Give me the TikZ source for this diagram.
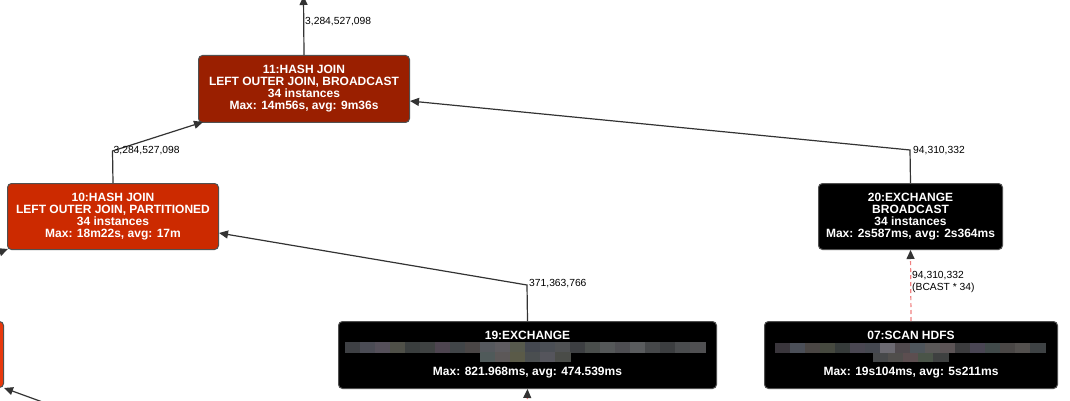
\documentclass[tikz,border=0pt]{standalone}
\usepackage{fontspec}
\setmainfont{Liberation Sans}
\usetikzlibrary{arrows.meta,calc}
\definecolor{hjA}{HTML}{9A1F00}
\definecolor{hjB}{HTML}{CC2A00}
\definecolor{hjC}{HTML}{E8380C}
\definecolor{bord}{HTML}{505050}
\definecolor{edgec}{HTML}{333333}
\definecolor{dashc}{HTML}{F08080}
\newcommand{\mosaic}[4]{% x0, y0, height, colour list
  \foreach \c [count=\i] in {#4} {
    \definecolor{mz}{HTML}{\c}
    \fill[mz] ({#1+(\i-1)*15},#2) rectangle ({#1+\i*15+0.5},{#2+#3});
  }}
\begin{document}
\begin{tikzpicture}[x=1pt,y=-1pt,
  plan/.style={draw=bord, line width=1pt, rounded corners=4pt, text=white,
    font=\fontsize{12}{12}\selectfont\bfseries, align=center, inner sep=0pt,
    anchor=north west},
  flow/.style={draw=edgec, line width=1.2pt, -{Triangle[length=9pt,width=8pt]}},
  bcast/.style={draw=dashc, line width=1.2pt, dash pattern=on 4pt off 3pt,
    -{Triangle[length=9pt,width=8pt,color=edgec,fill=edgec]}},
  cnt/.style={font=\fontsize{10.3}{12}\selectfont, anchor=west, inner sep=1pt,
    text=black, align=left}]
\useasboundingbox[fill=white] (0,0) rectangle (1070,401);

% nodes
\node[plan, fill=hjA, minimum width=211pt, minimum height=67pt] (n11) at (198,55)
  {11:HASH JOIN\\LEFT OUTER JOIN, BROADCAST\\34 instances\\Max: 14m56s, avg: 9m36s};
\node[plan, fill=hjB, minimum width=211pt, minimum height=66pt] (n10) at (7,183)
  {10:HASH JOIN\\LEFT OUTER JOIN, PARTITIONED\\34 instances\\Max: 18m22s, avg: 17m};
\node[plan, fill=black, minimum width=184pt, minimum height=66pt] (n20) at (818,183)
  {20:EXCHANGE\\BROADCAST\\34 instances\\Max: 2s587ms, avg: 2s364ms};
\node[plan, fill=black, minimum width=378pt, minimum height=67pt] (n19) at (338,321)
  {19:EXCHANGE\\\strut\\\strut\\Max: 821.968ms, avg: 474.539ms};
\node[plan, fill=black, minimum width=293pt, minimum height=67pt] (n07) at (764,321)
  {07:SCAN HDFS\\\strut\\\strut\\Max: 19s104ms, avg: 5s211ms};
\node[plan, fill=hjC, minimum width=40pt, minimum height=66pt] (nx) at (-37,321) {};

% redacted lines
\mosaic{345}{342}{11}{3E4044,4B4C55,55505A,4F5048,3A3E3E,3F4242,4E4550,414548,4A4646,56595E,5E5C60,575A4D,444850,4B4F55,505254,3D3F42,4A4E4C,555859,4E4E52,5A5C5E,46484A,3C3E40,4A4C4E,505052}
\mosaic{480}{352}{10}{505A5A,5C5858,5A5A48,4A4E50,55555C,4A4C48}
\mosaic{775}{343}{10}{3A363C,4B4F58,4A4644,46493F,363B3A,4A4752,454850,6C6A72,504A4E,4F565C,5A5858,5C5456,3C3C3E,4A4654,414A4A,4A4746,53504E,3E4244}
\mosaic{873}{353}{9}{46484A,504E4C,5C4E50,4A5448,3E4040}

% bend points and free ends
\coordinate (out11) at (303.5,-4);
\coordinate (b10) at (112.5,151);
\coordinate (b20) at (910,150);
\coordinate (b19) at (527,285);
\coordinate (in19) at (527,406);
\coordinate (inx) at (48,404);
\coordinate (in10) at (-30,263);

% connectors
\draw[flow] (n11.north) -- (out11);
\draw[flow] (n10.north) -- (b10) -- ($(n11.south west)+(5,-1)$);
\draw[flow] (n20.north) -- (b20) -- ($(n11.south east)+(0,-22)$);
\draw[flow] (n19.north) -- (b19) -- ($(n10.south east)+(0,-17)$);
\draw[bcast] (n07.north) -- (n20.south);
\draw[bcast] (in19) -- (n19.south);
\draw[flow] (inx) -- (nx.south east);
\draw[flow] (in10) -- ($(n10.south west)+(1,-1)$);

% edge labels
\node[cnt] (l11) at (304,22) {3,284,527,098};
\node[cnt] (l10) at (112.5,151) {3,284,527,098};
\node[cnt] (l20) at (912,151) {94,310,332};
\node[cnt] (l19) at (528,284) {371,363,766};
\node[cnt] (l07) at (911,282) {94,310,332\\(BCAST * 34)};
\end{tikzpicture}
\end{document}
